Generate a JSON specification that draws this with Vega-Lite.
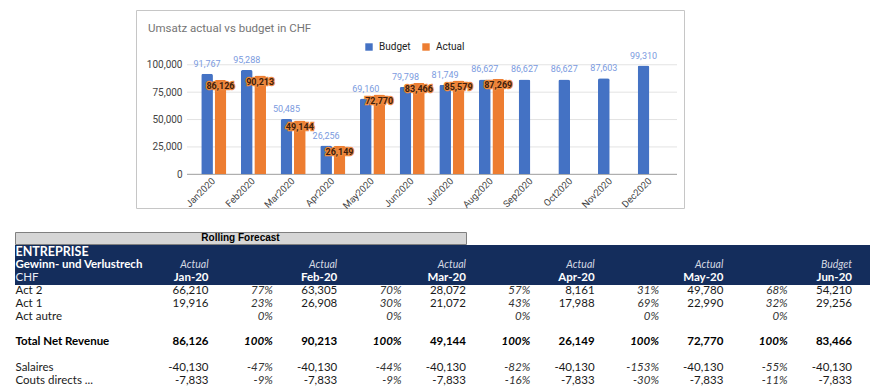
{
  "$schema": "https://vega.github.io/schema/vega-lite/v6.json",
  "padding": {"left": 14, "top": 9, "right": 0, "bottom": 0},
  "config": {
    "view": {"stroke": null},
    "font": "Roboto",
    "locale": {"number": {"decimal": ".", "thousands": ",", "grouping": [3], "currency": ["$", ""], "minus": "-"}}
  },
  "datasets": {
    "bars": [
      {"month": "Jan2020", "series": "Budget", "value": 91767}, {"month": "Jan2020", "series": "Actual", "value": 86126},
      {"month": "Feb2020", "series": "Budget", "value": 95288}, {"month": "Feb2020", "series": "Actual", "value": 90213},
      {"month": "Mar2020", "series": "Budget", "value": 50485}, {"month": "Mar2020", "series": "Actual", "value": 49144},
      {"month": "Apr2020", "series": "Budget", "value": 26256}, {"month": "Apr2020", "series": "Actual", "value": 26149},
      {"month": "May2020", "series": "Budget", "value": 69160}, {"month": "May2020", "series": "Actual", "value": 72770},
      {"month": "Jun2020", "series": "Budget", "value": 79798}, {"month": "Jun2020", "series": "Actual", "value": 83466},
      {"month": "Jul2020", "series": "Budget", "value": 81749}, {"month": "Jul2020", "series": "Actual", "value": 85579},
      {"month": "Aug2020", "series": "Budget", "value": 86627}, {"month": "Aug2020", "series": "Actual", "value": 87269},
      {"month": "Sep2020", "series": "Budget", "value": 86627},
      {"month": "Oct2020", "series": "Budget", "value": 86627},
      {"month": "Nov2020", "series": "Budget", "value": 87603},
      {"month": "Dec2020", "series": "Budget", "value": 99310}
    ],
    "grid": [{"v": 0}, {"v": 25000}, {"v": 50000}, {"v": 75000}, {"v": 100000}],
    "head": [
      {"hrow": "h1", "col": "lab", "txt": "ENTREPRISE"},
      {"hrow": "h2", "col": "lab", "txt": "Gewinn- und Verlustrech"},
      {"hrow": "h3", "col": "lab", "txt": "CHF"},
      {"hrow": "h2", "col": "v1", "txt": "Actual"},
      {"hrow": "h2", "col": "v2", "txt": "Actual"},
      {"hrow": "h2", "col": "v3", "txt": "Actual"},
      {"hrow": "h2", "col": "v4", "txt": "Actual"},
      {"hrow": "h2", "col": "v5", "txt": "Actual"},
      {"hrow": "h2", "col": "v6", "txt": "Budget"},
      {"hrow": "h3", "col": "v1", "txt": "Jan-20"},
      {"hrow": "h3", "col": "v2", "txt": "Feb-20"},
      {"hrow": "h3", "col": "v3", "txt": "Mar-20"},
      {"hrow": "h3", "col": "v4", "txt": "Apr-20"},
      {"hrow": "h3", "col": "v5", "txt": "May-20"},
      {"hrow": "h3", "col": "v6", "txt": "Jun-20"}
    ],
    "rowlabels": [
      {"row": "Act 2"}, {"row": "Act 1"}, {"row": "Act autre"}, {"row": "Total Net Revenue"}, {"row": "Salaires"}, {"row": "Couts directs ..."}
    ],
    "cells": [
      {"row": "Act 2", "col": "v1", "num": 66210}, {"row": "Act 2", "col": "p1", "num": 0.77},
      {"row": "Act 2", "col": "v2", "num": 63305}, {"row": "Act 2", "col": "p2", "num": 0.70},
      {"row": "Act 2", "col": "v3", "num": 28072}, {"row": "Act 2", "col": "p3", "num": 0.57},
      {"row": "Act 2", "col": "v4", "num": 8161}, {"row": "Act 2", "col": "p4", "num": 0.31},
      {"row": "Act 2", "col": "v5", "num": 49780}, {"row": "Act 2", "col": "p5", "num": 0.68},
      {"row": "Act 2", "col": "v6", "num": 54210},
      {"row": "Act 1", "col": "v1", "num": 19916}, {"row": "Act 1", "col": "p1", "num": 0.23},
      {"row": "Act 1", "col": "v2", "num": 26908}, {"row": "Act 1", "col": "p2", "num": 0.30},
      {"row": "Act 1", "col": "v3", "num": 21072}, {"row": "Act 1", "col": "p3", "num": 0.43},
      {"row": "Act 1", "col": "v4", "num": 17988}, {"row": "Act 1", "col": "p4", "num": 0.69},
      {"row": "Act 1", "col": "v5", "num": 22990}, {"row": "Act 1", "col": "p5", "num": 0.32},
      {"row": "Act 1", "col": "v6", "num": 29256},
      {"row": "Act autre", "col": "p1", "num": 0}, {"row": "Act autre", "col": "p2", "num": 0},
      {"row": "Act autre", "col": "p3", "num": 0}, {"row": "Act autre", "col": "p4", "num": 0},
      {"row": "Act autre", "col": "p5", "num": 0},
      {"row": "Total Net Revenue", "col": "v1", "num": 86126}, {"row": "Total Net Revenue", "col": "p1", "num": 1},
      {"row": "Total Net Revenue", "col": "v2", "num": 90213}, {"row": "Total Net Revenue", "col": "p2", "num": 1},
      {"row": "Total Net Revenue", "col": "v3", "num": 49144}, {"row": "Total Net Revenue", "col": "p3", "num": 1},
      {"row": "Total Net Revenue", "col": "v4", "num": 26149}, {"row": "Total Net Revenue", "col": "p4", "num": 1},
      {"row": "Total Net Revenue", "col": "v5", "num": 72770}, {"row": "Total Net Revenue", "col": "p5", "num": 1},
      {"row": "Total Net Revenue", "col": "v6", "num": 83466},
      {"row": "Salaires", "col": "v1", "num": -40130}, {"row": "Salaires", "col": "p1", "num": -0.47},
      {"row": "Salaires", "col": "v2", "num": -40130}, {"row": "Salaires", "col": "p2", "num": -0.44},
      {"row": "Salaires", "col": "v3", "num": -40130}, {"row": "Salaires", "col": "p3", "num": -0.82},
      {"row": "Salaires", "col": "v4", "num": -40130}, {"row": "Salaires", "col": "p4", "num": -1.53},
      {"row": "Salaires", "col": "v5", "num": -40130}, {"row": "Salaires", "col": "p5", "num": -0.55},
      {"row": "Salaires", "col": "v6", "num": -40130},
      {"row": "Couts directs ...", "col": "v1", "num": -7833}, {"row": "Couts directs ...", "col": "p1", "num": -0.09},
      {"row": "Couts directs ...", "col": "v2", "num": -7833}, {"row": "Couts directs ...", "col": "p2", "num": -0.09},
      {"row": "Couts directs ...", "col": "v3", "num": -7833}, {"row": "Couts directs ...", "col": "p3", "num": -0.16},
      {"row": "Couts directs ...", "col": "v4", "num": -7833}, {"row": "Couts directs ...", "col": "p4", "num": -0.30},
      {"row": "Couts directs ...", "col": "v5", "num": -7833}, {"row": "Couts directs ...", "col": "p5", "num": -0.11},
      {"row": "Couts directs ...", "col": "v6", "num": -7833}
    ]
  },
  "spacing": 20,
  "vconcat": [
    {
      "spacing": 0,
      "hconcat": [
        {
          "width": 120, "height": 198,
          "data": {"values": []},
          "mark": {"type": "point", "opacity": 0},
          "encoding": {}
        },
        {
          "width": 548, "height": 198,
          "view": {"stroke": "#c6c6c6"},
          "title": {"text": "Umsatz actual vs budget in CHF", "anchor": "start", "frame": "group", "offset": -24, "dx": 12, "fontSize": 11.5, "fontWeight": "normal", "color": "#757575", "font": "Roboto"},
          "resolve": {"scale": {"x": "independent"}},
          "layer": [
            {
              "data": {"name": "grid"},
              "mark": {"type": "rule", "strokeWidth": 1},
              "encoding": {
                "y": {"field": "v", "type": "quantitative", "scale": {"domain": [-30750, 150000], "nice": false},
                  "axis": {"orient": "left", "offset": -51, "values": [0, 25000, 50000, 75000, 100000], "format": ",.0f", "domain": false, "ticks": false, "grid": false, "title": null, "labelFontSize": 10, "labelColor": "#444444", "labelPadding": 5, "labelFont": "Roboto"}},
                "x": {"datum": 0, "type": "quantitative", "scale": {"domain": [0, 1], "range": [51, 541]}, "axis": null},
                "x2": {"datum": 1},
                "color": {"condition": {"test": "datum.v === 0", "value": "#9e9e9e"}, "value": "#e3e3e3"}
              }
            },
            {
              "data": {"name": "bars"},
              "encoding": {
                "x": {"field": "month", "type": "nominal", "sort": null,
                  "scale": {"domain": ["Jan2020", "Feb2020", "Mar2020", "Apr2020", "May2020", "Jun2020", "Jul2020", "Aug2020", "Sep2020", "Oct2020", "Nov2020", "Dec2020"], "range": [51, 541], "paddingInner": 0.368, "paddingOuter": 0.359},
                  "axis": {"orient": "bottom", "offset": -34, "labelAngle": -45, "labelAlign": "right", "labelBaseline": "middle", "domain": false, "ticks": false, "title": null, "labelFontSize": 9.5, "labelColor": "#444444", "labelPadding": 5, "labelOverlap": false, "labelBound": false, "labelFont": "Roboto"}},
                "xOffset": {"field": "series", "type": "nominal", "scale": {"domain": ["Budget", "Actual"], "paddingInner": 0.127, "paddingOuter": 0}},
                "y": {"field": "value", "type": "quantitative", "scale": {"domain": [-30750, 150000], "nice": false},
                  "axis": {"orient": "left", "offset": -51, "values": [0, 25000, 50000, 75000, 100000], "format": ",.0f", "domain": false, "ticks": false, "grid": false, "title": null, "labelFontSize": 10, "labelColor": "#444444", "labelPadding": 5, "labelFont": "Roboto"}}
              },
              "layer": [
                {
                  "mark": {"type": "bar", "cornerRadiusTopLeft": 2, "cornerRadiusTopRight": 2},
                  "encoding": {
                    "color": {"field": "series", "type": "nominal",
                      "scale": {"domain": ["Budget", "Actual"], "range": ["#4472c4", "#ed7d31"]},
                      "legend": {"orient": "none", "legendX": 349, "legendY": 32, "direction": "horizontal", "title": null, "symbolType": "square", "symbolSize": 55, "labelFontSize": 10, "labelColor": "#222222", "columnPadding": 10, "labelOffset": 5, "labelFont": "Roboto"}}
                  }
                },
                {
                  "transform": [{"filter": "datum.series === 'Budget'"}],
                  "mark": {"type": "text", "baseline": "bottom", "dy": -5, "fontSize": 9, "color": "#7b9be0", "font": "Roboto"},
                  "encoding": {"text": {"field": "value", "type": "quantitative", "format": ","}}
                },
                {
                  "transform": [{"filter": "datum.series === 'Actual'"}],
                  "mark": {"type": "text", "baseline": "middle", "dy": 6.5, "fontSize": 9, "fontWeight": "bold", "fill": "#ee8a40", "stroke": "#ee8a40", "strokeWidth": 2.5, "font": "Roboto"},
                  "encoding": {"text": {"field": "value", "type": "quantitative", "format": ","}}
                },
                {
                  "transform": [{"filter": "datum.series === 'Actual'"}],
                  "mark": {"type": "text", "baseline": "middle", "dy": 6.5, "fontSize": 9, "fontWeight": "bold", "fill": "#40200c", "font": "Roboto"},
                  "encoding": {"text": {"field": "value", "type": "quantitative", "format": ","}}
                }
              ]
            }
          ]
        }
      ]
    },
    {
      "spacing": 0,
      "vconcat": [
        {
          "width": 451, "height": 12,
          "view": {"fill": "#d6d6d6", "stroke": "#808080"},
          "data": {"values": [{"t": "Rolling Forecast"}]},
          "mark": {"type": "text", "font": "Liberation Sans", "fontSize": 10, "fontWeight": "bold", "color": "#000000", "baseline": "middle"},
          "encoding": {"text": {"field": "t"}}
        },
        {
          "width": 855, "height": 40,
          "view": {"fill": "#142d5c", "stroke": null},
          "data": {"name": "head"},
          "encoding": {
            "x": {"field": "col", "type": "nominal", "scale": {"type": "point", "domain": ["lab", "g1", "g2", "v1", "p1", "v2", "p2", "v3", "p3", "v4", "p4", "v5", "p5", "v6"], "range": [0.5, 837], "padding": 0}, "axis": null},
            "y": {"field": "hrow", "type": "nominal", "scale": {"type": "band", "domain": ["h1", "h2", "h3"], "paddingInner": 0, "paddingOuter": 0}, "axis": null},
            "text": {"field": "txt"}
          },
          "layer": [
            {
              "transform": [{"filter": "datum.col === 'lab' && datum.hrow === 'h1'"}],
              "mark": {"type": "text", "align": "left", "baseline": "middle", "font": "Lato", "fontSize": 12.5, "fontWeight": "bold", "color": "#ffffff"}
            },
            {
              "transform": [{"filter": "datum.col === 'lab' && datum.hrow === 'h2'"}],
              "mark": {"type": "text", "align": "left", "baseline": "middle", "font": "Lato", "fontSize": 11.5, "fontWeight": "bold", "color": "#ffffff"}
            },
            {
              "transform": [{"filter": "datum.col === 'lab' && datum.hrow === 'h3'"}],
              "mark": {"type": "text", "align": "left", "baseline": "middle", "font": "Lato", "fontSize": 11.5, "color": "#e8ecf4"}
            },
            {
              "transform": [{"filter": "datum.col !== 'lab' && datum.hrow === 'h2'"}],
              "mark": {"type": "text", "align": "right", "baseline": "middle", "font": "Lato", "fontSize": 10.5, "fontStyle": "italic", "color": "#d4d9e3"}
            },
            {
              "transform": [{"filter": "datum.col !== 'lab' && datum.hrow === 'h3'"}],
              "mark": {"type": "text", "align": "right", "baseline": "middle", "font": "Lato", "fontSize": 11.5, "fontWeight": "bold", "color": "#ffffff"}
            }
          ]
        },
        {
          "width": 855, "height": 102,
          "encoding": {
            "x": {"field": "col", "type": "nominal", "scale": {"type": "point", "domain": ["lab", "g1", "g2", "v1", "p1", "v2", "p2", "v3", "p3", "v4", "p4", "v5", "p5", "v6"], "range": [0.5, 837], "padding": 0}, "axis": null},
            "y": {"field": "row", "type": "nominal", "scale": {"type": "band", "domain": ["Act 2", "Act 1", "Act autre", "_b1", "Total Net Revenue", "_b2", "Salaires", "Couts directs ..."], "paddingInner": 0, "paddingOuter": 0}, "axis": null}
          },
          "layer": [
            {
              "data": {"name": "rowlabels"},
              "transform": [{"filter": "datum.row !== 'Total Net Revenue'"}],
              "mark": {"type": "text", "align": "left", "baseline": "middle", "font": "Lato", "fontSize": 11.5, "color": "#1a1a1a"},
              "encoding": {"x": {"datum": "lab"}, "text": {"field": "row"}}
            },
            {
              "data": {"name": "rowlabels"},
              "transform": [{"filter": "datum.row === 'Total Net Revenue'"}],
              "mark": {"type": "text", "align": "left", "baseline": "middle", "font": "Lato", "fontSize": 11.5, "fontWeight": "bold", "color": "#000000"},
              "encoding": {"x": {"datum": "lab"}, "text": {"field": "row"}}
            },
            {
              "data": {"name": "cells"},
              "transform": [{"filter": "datum.row !== 'Total Net Revenue' && substring(datum.col, 0, 1) === 'v'"}],
              "mark": {"type": "text", "align": "right", "baseline": "middle", "font": "Lato", "fontSize": 11.5, "color": "#1a1a1a"},
              "encoding": {"text": {"field": "num", "type": "quantitative", "format": ","}}
            },
            {
              "data": {"name": "cells"},
              "transform": [{"filter": "datum.row === 'Total Net Revenue' && substring(datum.col, 0, 1) === 'v'"}],
              "mark": {"type": "text", "align": "right", "baseline": "middle", "font": "Lato", "fontSize": 11.5, "fontWeight": "bold", "color": "#000000"},
              "encoding": {"text": {"field": "num", "type": "quantitative", "format": ","}}
            },
            {
              "data": {"name": "cells"},
              "transform": [{"filter": "datum.row !== 'Total Net Revenue' && substring(datum.col, 0, 1) === 'p'"}],
              "mark": {"type": "text", "align": "right", "baseline": "middle", "font": "Lato", "fontSize": 11.5, "fontStyle": "italic", "color": "#333333"},
              "encoding": {"text": {"field": "num", "type": "quantitative", "format": ".0%"}}
            },
            {
              "data": {"name": "cells"},
              "transform": [{"filter": "datum.row === 'Total Net Revenue' && substring(datum.col, 0, 1) === 'p'"}],
              "mark": {"type": "text", "align": "right", "baseline": "middle", "font": "Lato", "fontSize": 11.5, "fontWeight": "bold", "fontStyle": "italic", "color": "#000000"},
              "encoding": {"text": {"field": "num", "type": "quantitative", "format": ".0%"}}
            }
          ]
        }
      ]
    }
  ]
}
